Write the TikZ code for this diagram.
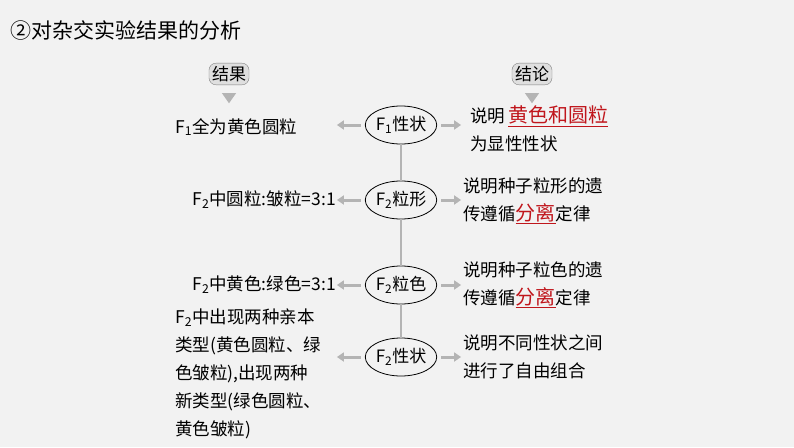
\documentclass[tikz,border=0pt]{standalone}
\usepackage{fontspec}
\setmainfont{Noto Sans CJK SC}
\usetikzlibrary{arrows.meta,shapes.geometric}
\definecolor{bg}{HTML}{F2F2F2}
\definecolor{ar}{HTML}{B4B4B4}
\definecolor{hl}{HTML}{C0161C}
\newcommand{\hlu}[2]{\tikz[baseline=(h.base)]\node[inner sep=0pt,outer sep=0pt] (h) {\textcolor{hl}{\fontsize{#1}{20}\selectfont #2}};\hspace{0pt}}
\begin{document}
\begin{tikzpicture}[x=1pt,y=-1pt,
 txt/.style={font=\fontsize{17.5}{28}\selectfont,inner sep=0pt},
 ell/.style={draw,ellipse,thick,minimum width=64pt,minimum height=38pt,inner sep=0pt,font=\fontsize{17}{18}\selectfont},
 tag/.style={draw=gray,fill=gray!25,rounded corners=7pt,font=\fontsize{17}{18}\selectfont,inner sep=3pt},
 garr/.style={ar,line width=3pt,-{Triangle[length=7pt,width=9pt]}},
 tri/.style={ar,fill=ar,isosceles triangle,shape border rotate=-90,isosceles triangle apex angle=70,inner sep=3pt}]
\fill[bg] (0,0) rectangle (794,447);
\node[anchor=west,font=\fontsize{21}{24}\selectfont] (title) at (7,30) {②对杂交实验结果的分析};
\node[tag] (r) at (229,74) {结果};
\node[tag] (c) at (532,74) {结论};
\node[tri] (rt) at (229,96) {};
\node[tri] (ct) at (532,96) {};
\node[ell] (e1) at (401,125) {F\textsubscript{1}性状};
\node[ell] (e2) at (401,200) {F\textsubscript{2}粒形};
\node[ell] (e3) at (401,285) {F\textsubscript{2}粒色};
\node[ell] (e4) at (401,357) {F\textsubscript{2}性状};
\draw[ar,line width=2.5pt] (e1) -- (e2) (e2) -- (e3) (e3) -- (e4);
\node[txt,anchor=west] (l1) at (175,127) {F\textsubscript{1}全为黄色圆粒};
\node[txt,anchor=east] (l2) at (336,200) {F\textsubscript{2}中圆粒:皱粒=3:1};
\node[txt,anchor=east] (l3) at (336,285) {F\textsubscript{2}中黄色:绿色=3:1};
\node[txt,anchor=north west,align=left] (l4) at (175,309) {F\textsubscript{2}中出现两种亲本\\类型(黄色圆粒、绿\\色皱粒),出现两种\\新类型(绿色圆粒、\\黄色皱粒)};
\node[txt,anchor=west,align=left] (q1) at (470,129) {说明\,\textcolor{hl}{\underline{\fontsize{20}{20}\selectfont 黄色和圆粒}}\\为显性性状};
\node[txt,anchor=west,align=left] (q2) at (463,201) {说明种子粒形的遗\\传遵循\textcolor{hl}{\underline{\fontsize{20}{20}\selectfont 分离}}定律};
\node[txt,anchor=west,align=left] (q3) at (463,285) {说明种子粒色的遗\\传遵循\textcolor{hl}{\underline{\fontsize{20}{20}\selectfont 分离}}定律};
\node[txt,anchor=west,align=left] (q4) at (463,357) {说明不同性状之间\\进行了自由组合};
\foreach \e in {e1,e2,e3,e4}{
 \draw[garr] ([xshift=-4pt]\e.west) -- ++(-24,0);
 \draw[garr] ([xshift=4pt]\e.east) -- ++(20,0);
}
\end{tikzpicture}
\end{document}
